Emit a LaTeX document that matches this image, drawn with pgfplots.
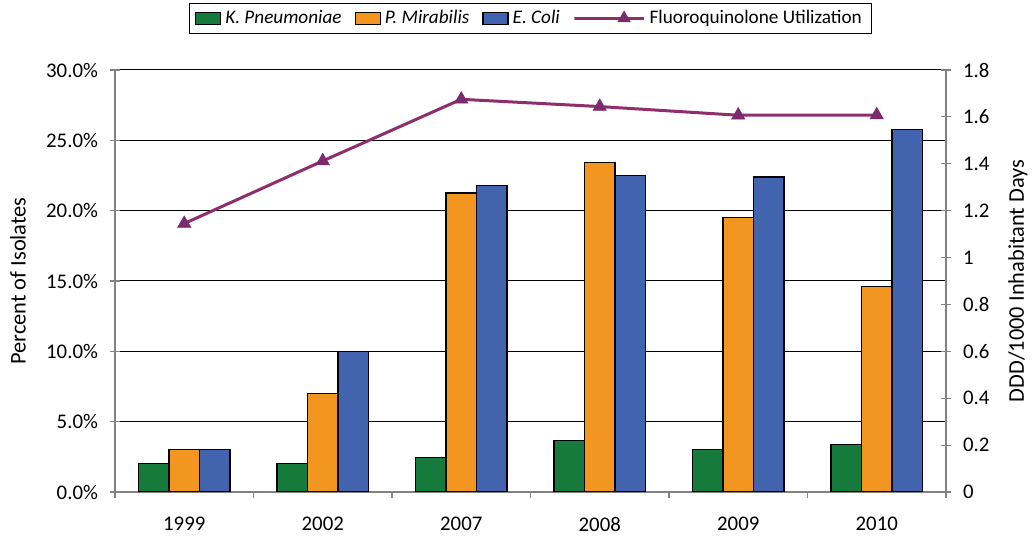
\documentclass[border=0pt]{standalone}
\usepackage{pgfplots}
\pgfplotsset{compat=1.18}
\usepackage{fontspec}
\setmainfont{Carlito}
\definecolor{kgreen}{RGB}{21,122,60}
\definecolor{porange}{RGB}{243,150,33}
\definecolor{eblue}{RGB}{66,100,174}
\definecolor{lpurple}{RGB}{142,46,108}
\definecolor{mpurple}{RGB}{124,42,110}
\definecolor{axgray}{RGB}{130,130,130}
\pgfplotsset{barleg/.style={legend image code/.code={\draw[##1] (0pt,-3pt) rectangle (12.5pt,3pt);}},
  lineleg/.style={legend image code/.code={\draw[##1,mark=none] (0pt,0pt) -- (20pt,0pt); \path[##1] plot coordinates {(10pt,0pt)};}}}
\begin{document}
\begin{tikzpicture}
\useasboundingbox (-57.5pt,-23.5pt) rectangle (459.5pt,246pt);
\begin{axis}[
  scale only axis, width=415.5pt, height=211pt,
  xmin=-0.5, xmax=5.5, ymin=0, ymax=30,
  axis x line*=bottom, axis y line*=left,
  axis line style={axgray, line width=0.6pt},
  font=\fontsize{10.4}{12}\selectfont,
  ybar, bar width=0.22,
  xtick={0,1,2,3,4,5},
  xticklabels={1999,2002,2007,2008,2009,2010},
  major x tick style={draw=none},
  minor xtick={-0.5,0.5,1.5,2.5,3.5,4.5,5.5},
  minor x tick style={axgray, line width=0.6pt},
  minor tick length=3pt,
  xtick align=outside,
  xticklabel style={yshift=-4pt},
  ytick={0,5,10,15,20,25,30},
  ytick align=center, major tick length=5pt,
  ytick style={axgray, line width=0.6pt},
  yticklabel={\pgfmathprintnumber[fixed,fixed zerofill,precision=1,assume math mode=true]{\tick}\%},
  yticklabel style={xshift=-2.5pt},
  ymajorgrids, major grid style={black, line width=0.5pt},
  ylabel={Percent of Isolates},
  ylabel style={at={(axis description cs:-0.1167,0.5)}, anchor=center, rotate=0, font=\fontsize{11.2}{13}\selectfont},
  legend columns=4,
  legend style={at={(axis description cs:0.5,1)}, anchor=south, yshift=18pt,
    draw=black, line width=0.5pt, font=\fontsize{9.6}{11}\selectfont,
    inner xsep=3pt, inner ysep=1.5pt,
    /tikz/every even column/.append style={column sep=4.5pt}},
  legend cell align=left,
]
\addplot[fill=kgreen, draw=black, line width=0.6pt, bar shift=-0.22, barleg]
  coordinates {(0,2.0) (1,2.0) (2,2.44) (3,3.68) (4,3.04) (5,3.35)};
\addlegendentry{\textit{K. Pneumoniae}}
\addplot[fill=porange, draw=black, line width=0.6pt, bar shift=0, barleg]
  coordinates {(0,3.0) (1,7.0) (2,21.25) (3,23.4) (4,19.5) (5,14.6)};
\addlegendentry{\textit{P. Mirabilis}}
\addplot[fill=eblue, draw=black, line width=0.6pt, bar shift=0.22, barleg]
  coordinates {(0,3.0) (1,10.0) (2,21.8) (3,22.5) (4,22.4) (5,25.75)};
\addlegendentry{\textit{E. Coli}}
\addlegendimage{lineleg, color=lpurple, line width=1.5pt, mark=triangle*, mark size=3.6pt, mark options={fill=mpurple, draw=mpurple, line width=0.3pt}}
\addlegendentry{Fluoroquinolone Utilization}
\end{axis}
\begin{axis}[
  scale only axis, width=415.5pt, height=211pt,
  xmin=-0.5, xmax=5.5, ymin=0, ymax=1.8,
  axis x line=none, axis y line*=right,
  axis line style={axgray, line width=0.6pt},
  font=\fontsize{10.4}{12}\selectfont,
  ytick={0,0.2,0.4,0.6,0.8,1,1.2,1.4,1.6,1.8},
  yticklabels={0,0.2,0.4,0.6,0.8,1,1.2,1.4,1.6,1.8},
  ytick align=center, major tick length=5pt,
  ytick style={axgray, line width=0.6pt},
  yticklabel style={xshift=2.5pt},
  ylabel={DDD/1000 Inhabitant Days},
  ylabel style={at={(axis description cs:1.0866,0.5)}, anchor=center, rotate=0, font=\fontsize{11.2}{13}\selectfont},
]
\addplot[color=lpurple, line width=1.5pt, mark=triangle*, mark size=3.8pt,
  mark options={fill=mpurple, draw=mpurple, line width=0.3pt}]
  coordinates {(0,1.145) (1,1.412) (2,1.675) (3,1.644) (4,1.607) (5,1.608)};
\end{axis}
\end{tikzpicture}
\end{document}
